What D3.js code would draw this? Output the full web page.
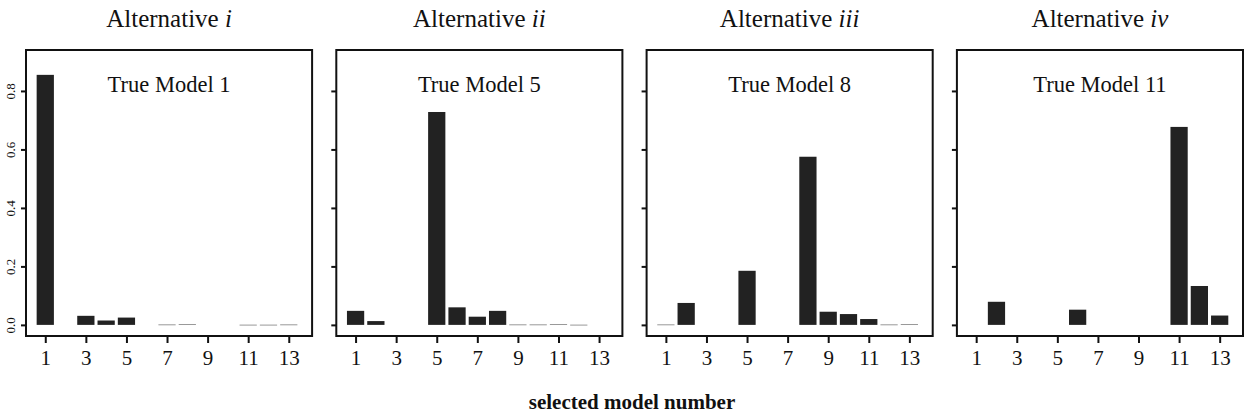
<!DOCTYPE html>
<html>
<head>
<meta charset="utf-8">
<script src="https://cdn.jsdelivr.net/npm/d3@7"></script>
<style>
  body { margin: 0; background: #fff; }
  text { font-family: "Liberation Serif", "Times New Roman", serif; fill: #111; }
</style>
</head>
<body>
<div id="chart"></div>
<script>
// model selection frequencies, one array per alternative

var models = [1, 2, 3, 4, 5, 6, 7, 8, 9, 10, 11, 12, 13];

var altI   = [0.855, 0, 0.031, 0.015, 0.025, 0, 0.002, 0.003, 0, 0, 0.001, 0.001, 0.002];
var altII  = [0.048, 0.013, 0, 0, 0.728, 0.06, 0.028, 0.048, 0.002, 0.002, 0.003, 0.001, 0];
var altIII = [0.002, 0.075, 0, 0, 0.185, 0, 0, 0.575, 0.045, 0.037, 0.02, 0.002, 0.003];
var altIV  = [0, 0.079, 0, 0, 0, 0.052, 0, 0, 0, 0, 0.677, 0.133, 0.032];

var panelNumerals = ["i", "ii", "iii", "iv"];
var trueModels = ["True Model 1", "True Model 5", "True Model 8", "True Model 11"];
var seriesList = [altI, altII, altIII, altIV];

var xTicks = [1, 3, 5, 7, 9, 11, 13];
var yTicks = [0, 0.2, 0.4, 0.6, 0.8];

var width = 1252;
var height = 416;

var plotTop = 50;
var plotBottom = 336;

var svg = d3.select("#chart")
  .append("svg")
  .attr("width", width)
  .attr("height", height);

var panelScale = d3.scaleBand()
  .domain(d3.range(4))
  .range([26, 1243])
  .paddingInner(0.078);

var panelWidth = panelScale.bandwidth();

var yScale = d3.scaleLinear()
  .domain([-0.038, 0.94])
  .range([plotBottom, plotTop]);

var xScale = d3.scaleLinear()
  .domain([0.05, 14.15])
  .range([0, panelWidth]);

var barW = xScale(0.85) - xScale(0);

seriesList.forEach(function(series, i) {
  var g = svg.append("g")
    .attr("transform", "translate(" + panelScale(i) + ",0)");

  var data = models.map(function(m, k) {
    return { model: m, value: series[k] };
  }).filter(function(d) { return d.value > 0; });

  g.selectAll(".bar")
    .data(data)
    .enter()
    .append("rect")
    .attr("class", "bar")
    .attr("x", function(d) { return xScale(d.model) - barW / 2; })
    .attr("y", function(d) { return yScale(d.value); })
    .attr("width", barW)
    .attr("height", function(d) { return Math.max(1, yScale(0) - yScale(d.value)); })
    .attr("fill", function(d) { return d.value < 0.005 ? "#999" : "#222"; });

  // box
  g.append("rect")
    .attr("x", 0)
    .attr("y", plotTop)
    .attr("width", panelWidth)
    .attr("height", plotBottom - plotTop)
    .attr("fill", "none")
    .attr("stroke", "#111")
    .attr("stroke-width", 2);

  // x axis
  var xAxis = g.append("g")
    .attr("transform", "translate(0," + plotBottom + ")")
    .call(d3.axisBottom(xScale).tickValues(xTicks).tickSize(7).tickPadding(7).tickFormat(d3.format("d")));
  xAxis.select(".domain").remove();
  xAxis.selectAll("line").attr("stroke", "#111").attr("stroke-width", 2);
  xAxis.selectAll("text")
    .attr("font-family", "Liberation Serif, serif")
    .attr("font-size", 21)
    .attr("fill", "#111");

  // y axis
  var yAxis = g.append("g")
    .call(d3.axisLeft(yScale).tickValues(yTicks).tickSize(5).tickPadding(6).tickFormat(d3.format(".1f")));
  yAxis.select(".domain").remove();
  yAxis.selectAll("line").attr("stroke", "#111").attr("stroke-width", 2);
  if (i === 0) {
    // tick groups are already translated to each y value
    yAxis.selectAll("text")
      .attr("font-family", "DejaVu Sans, sans-serif")
      .attr("font-size", 13)
      .attr("fill", "#555")
      .attr("text-anchor", "middle")
      .attr("dy", 0)
      .attr("x", 0)
      .attr("y", 0)
      .attr("transform", "translate(" + (15 - panelScale(0)) + ",0) rotate(-90)");
  } else {
    yAxis.selectAll("text").remove();
  }

  // titles
  var title = g.append("text")
    .attr("x", panelWidth / 2)
    .attr("y", 27)
    .attr("text-anchor", "middle")
    .attr("font-size", 25);
  title.append("tspan").text("Alternative ");
  title.append("tspan").attr("font-style", "italic").text(panelNumerals[i]);

  g.append("text")
    .attr("x", panelWidth / 2)
    .attr("y", 92)
    .attr("text-anchor", "middle")
    .attr("font-size", 22.5)
    .text(trueModels[i]);
});

svg.append("text")
  .attr("x", 632)
  .attr("y", 409)
  .attr("text-anchor", "middle")
  .attr("font-size", 21)
  .attr("font-weight", "bold")
  .text("selected model number");
</script>
</body>
</html>
